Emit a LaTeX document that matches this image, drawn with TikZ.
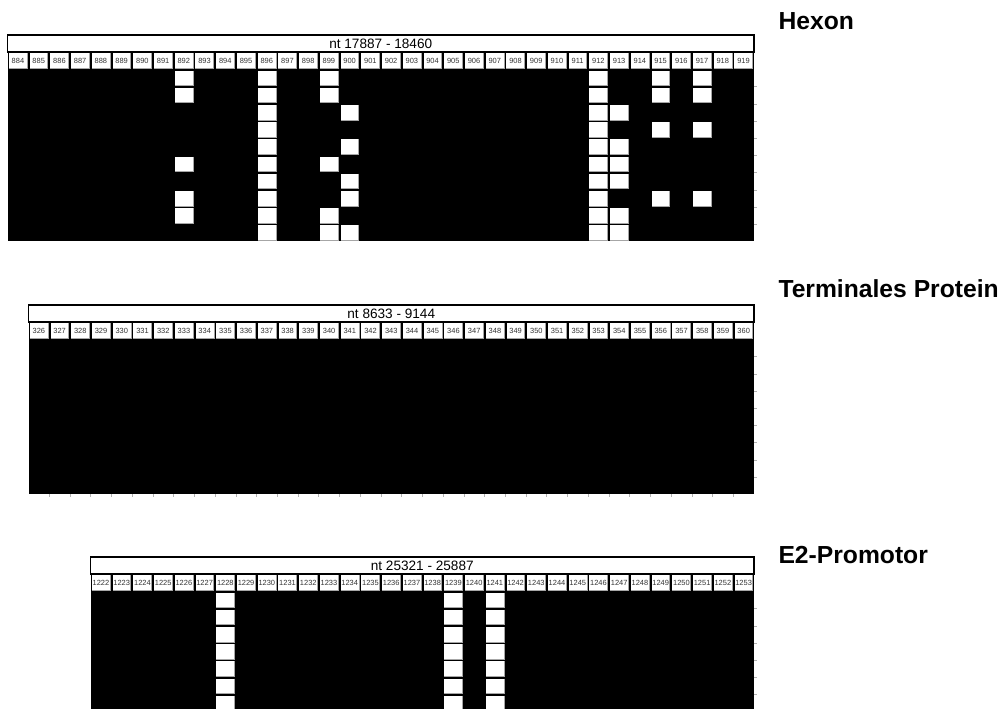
\documentclass[tikz,border=0pt]{standalone}
\usepackage{fontspec}
\setmainfont{Liberation Sans}
\begin{document}
\begin{tikzpicture}[x=0.75pt,y=-0.75pt,line width=0.75pt]
	\tikzset{
		hdr/.style={draw=black,line width=1.2pt,fill=white},
		shade/.style={draw=gray!70,line width=0.4pt},
		tickmark/.style={draw=gray!60,line width=0.4pt},
		title/.style={anchor=west,inner sep=0pt,font=\bfseries\fontsize{18.5}{21}\selectfont},
		rangetxt/.style={inner sep=0pt,font=\fontsize{10.2}{12}\selectfont},
		num/.style={inner sep=0pt,text=black!80,font=\fontsize{5.6}{6}\selectfont}
	}
	\useasboundingbox (0,0) rectangle (1002,708);
	\clip (0,0) rectangle (1002,708);
	\def\cw{20.73}\def\rh{17.2}
	
	% one white cell, column #1, row #2 (row 0 = numbers)
	\newcommand{\cellbox}[2]{\fill[white] ({(#1)*\cw+1.3},{(#2+1)*\rh+1.1}) rectangle ({(#1+1)*\cw-1.3},{(#2+2)*\rh-1.1});
		\draw[shade] ({(#1+1)*\cw-1.3},{(#2+1)*\rh+1.1}) -- ({(#1+1)*\cw-1.3},{(#2+2)*\rh-1.1}) -- ({(#1)*\cw+1.3},{(#2+2)*\rh-1.1});}
	% name, first nt, columns, rows, range
	\newcommand{\seqpanel}[5]{\begin{scope}[shift={(#1)}]
			\fill[black] (0,\rh) rectangle ({#3*\cw},{(#4+2)*\rh});
			\draw[hdr] (0,0) rectangle ({#3*\cw},\rh);
			\node[rangetxt] (#1-range) at ({#3*\cw/2},{\rh/2}) {#5};
			\foreach \c in {1,...,#3} {
				\pgfmathtruncatemacro{\nt}{#2+\c-1}
				\cellbox{\c-1}{0}
				\node[num] (#1-\nt) at ({(\c-0.5)*\cw},{1.5*\rh}) {\nt};
			}
			\foreach \r in {2,...,#4} \draw[tickmark] ({#3*\cw},{(\r+1)*\rh}) -- ++(3,0);
		\end{scope}}
	
	\coordinate (hexon) at (7.6,35);
	\coordinate (tp) at (28.5,305);
	\coordinate (e2) at (90.6,557);
	
	\seqpanel{hexon}{884}{36}{10}{nt 17887 - 18460}
	\seqpanel{tp}{326}{35}{9}{nt 8633 - 9144}
	\seqpanel{e2}{1222}{32}{8}{nt 25321 - 25887}
	
	\begin{scope}[shift={(hexon)}]
		\foreach \n/\rows in {892/{1,2,6,8,9},896/{1,...,10},899/{1,2,6,9,10},900/{3,5,7,8,10},
			912/{1,...,10},913/{3,5,6,7,9,10},915/{1,2,4,8},917/{1,2,4,8}}
		\foreach \r in \rows {\pgfmathtruncatemacro{\c}{\n-884}\cellbox{\c}{\r}}
	\end{scope}
	\begin{scope}[shift={(tp)}]
		\foreach \c in {1,...,34} \draw[tickmark] ({\c*\cw},{11*\rh}) -- ++(0,3);
	\end{scope}
	\begin{scope}[shift={(e2)}]
		\foreach \n in {1228,1239,1241}
		\foreach \r in {1,...,8} {\pgfmathtruncatemacro{\c}{\n-1222}\cellbox{\c}{\r}}
	\end{scope}
	
	\node[title] (hexon-title) at (778,21) {Hexon};
	\node[title] (tp-title) at (778,289) {Terminales Protein};
	\node[title] (e2-title) at (778,555) {E2-Promotor};
\end{tikzpicture}
\end{document}
